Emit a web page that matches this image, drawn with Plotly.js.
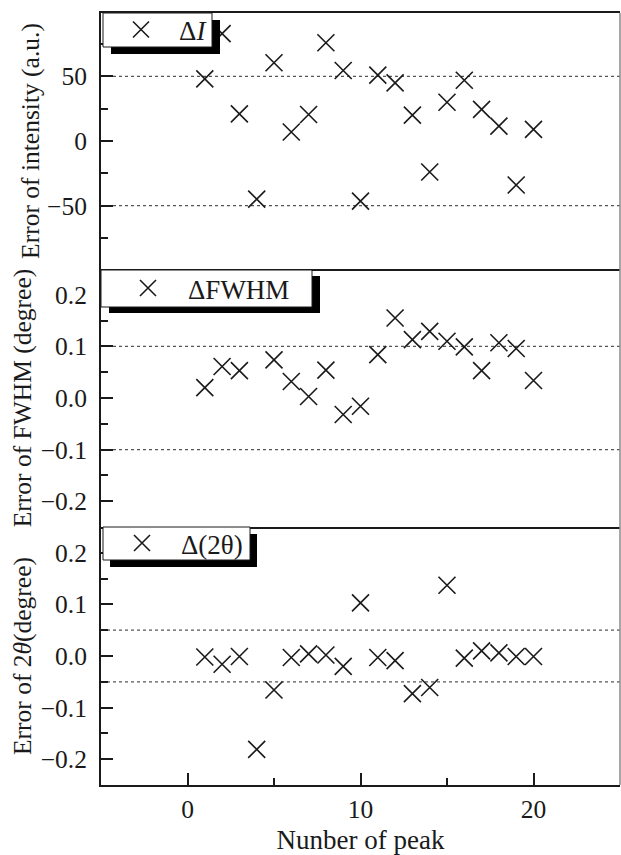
<!DOCTYPE html>
<html>
<head>
<meta charset="utf-8">
<script src="https://cdn.plot.ly/plotly-3.0.1.min.js"></script>
<style>
  body { margin: 0; background: #fff; }
  #chart { width: 621px; height: 855px; }
</style>
</head>
<body>
<div id="chart"></div>
<script>
// Peak index shared by all three panels
const peakNumber = [1, 2, 3, 4, 5, 6, 7, 8, 9, 10, 11, 12, 13, 14, 15, 16, 17, 18, 19, 20];

// Error of intensity (a.u.)
const intensityError = [48, 83, 21, -45, 60.5, 7, 20.5, 76, 54.5, -46.5, 51, 45, 20, -24, 30, 47, 24.5, 11.5, -34, 9];

// Error of FWHM (degree); peak 4 has no value
const fwhmError = [0.02, 0.061, 0.053, null, 0.074, 0.032, 0.003, 0.054, -0.032, -0.016, 0.084, 0.155, 0.113, 0.129, 0.11, 0.099, 0.053, 0.107, 0.096, 0.034];

// Error of 2-theta (degree)
const twoThetaError = [-0.002, -0.016, -0.001, -0.181, -0.066, -0.003, 0.004, 0.002, -0.02, 0.103, -0.003, -0.009, -0.073, -0.061, 0.137, -0.004, 0.01, 0.006, -0.001, -0.001];

// Tolerance bands drawn as dotted lines
const intensityLimits = [-50, 50];
const fwhmLimits = [-0.1, 0.1];
const twoThetaLimits = [-0.05, 0.05];

const FONT = '"Liberation Serif", "Times New Roman", serif';
const INK = '#1a1a1a';

// Plot area in pixels (used to place the legend frames)
const M = { l: 101, r: 1, t: 13, b: 70 };
const W = 621, H = 855;
const PW = W - M.l - M.r, PH = H - M.t - M.b;
const px = x => (x - M.l) / PW;
const py = y => 1 - (y - M.t) / PH;

const markerStyle = {
  symbol: 'x-thin',
  size: 17,
  color: INK,
  line: { width: 1.6, color: INK }
};

const traces = [
  { x: peakNumber, y: intensityError, xaxis: 'x', yaxis: 'y', name: 'Δ<i>I</i>', legend: 'legend' },
  { x: peakNumber, y: fwhmError, xaxis: 'x2', yaxis: 'y2', name: 'ΔFWHM', legend: 'legend2' },
  { x: peakNumber, y: twoThetaError, xaxis: 'x3', yaxis: 'y3', name: 'Δ(2θ)', legend: 'legend3' }
].map(t => Object.assign(t, { type: 'scatter', mode: 'markers', marker: markerStyle, showlegend: true }));

function xAxis(anchor, mirror, showLabels) {
  return {
    anchor: anchor,
    range: [-5, 25],
    showline: true, mirror: mirror, linecolor: INK, linewidth: 2,
    showgrid: false, zeroline: false,
    ticks: showLabels ? 'inside' : '',
    ticklen: 12, tickwidth: 2, tickcolor: INK,
    dtick: 10, tick0: 0,
    minor: showLabels ? { ticks: 'inside', ticklen: 7, tickwidth: 2, tickcolor: INK, dtick: 5, showgrid: false } : undefined,
    showticklabels: showLabels,
    ticklabelstandoff: 0,
    tickfont: { family: FONT, size: 25.5, color: INK },
    title: showLabels ? { text: 'Nunber of peak', font: { family: FONT, size: 27, color: INK }, standoff: 10 } : undefined
  };
}

function yAxis(anchor, domain, range, dtick, minorDtick, titleText, fmt, standoff) {
  return {
    anchor: anchor,
    domain: domain,
    range: range,
    showline: true, mirror: false, linecolor: INK, linewidth: 2,
    showgrid: false, zeroline: false,
    ticks: 'inside', ticklen: 12, tickwidth: 2, tickcolor: INK,
    dtick: dtick, tick0: 0, tickformat: fmt,
    minor: { ticks: 'inside', ticklen: 7, tickwidth: 2, tickcolor: INK, dtick: minorDtick, showgrid: false },
    ticklabelstandoff: 7,
    tickfont: { family: FONT, size: 25.5, color: INK },
    title: { text: titleText, font: { family: FONT, size: 25.5, color: INK }, standoff: standoff }
  };
}

function limitLines(values, yref) {
  return values.map(v => ({
    type: 'line', xref: 'paper', x0: 0, x1: 1, yref: yref, y0: v, y1: v,
    line: { color: '#555', width: 1.2, dash: 'dot' }, layer: 'below'
  }));
}

// White legend frame with a black drop shadow, given in pixels
function legendFrame(x0, y0, x1, y1, dx, dy) {
  return [
    { type: 'rect', xref: 'paper', yref: 'paper', layer: 'above',
      x0: px(x0 + dx), x1: px(x1 + dx), y0: py(y1 + dy), y1: py(y0 + dy),
      fillcolor: '#000', line: { width: 0 } },
    { type: 'rect', xref: 'paper', yref: 'paper', layer: 'above',
      x0: px(x0), x1: px(x1), y0: py(y1), y1: py(y0),
      fillcolor: '#fff', line: { width: 1, color: INK } }
  ];
}

function legendBox(xPix, yPix, itemwidth) {
  return {
    x: px(xPix), y: py(yPix), xref: 'paper', yref: 'paper', xanchor: 'left', yanchor: 'middle',
    bgcolor: 'rgba(0,0,0,0)', borderwidth: 0,
    itemwidth: itemwidth,
    font: { family: FONT, size: 27, color: INK }
  };
}

// Right edge of the frame, a lighter hairline
const rightEdge = {
  type: 'line', xref: 'paper', yref: 'paper', x0: 1, x1: 1, y0: 0, y1: 1,
  line: { color: '#8a8a8a', width: 1.5 }, layer: 'above'
};

const layout = {
  width: W, height: H,
  margin: M,
  paper_bgcolor: '#fff', plot_bgcolor: '#fff',
  showlegend: true,
  xaxis: xAxis('y', true, false),
  xaxis2: xAxis('y2', false, false),
  xaxis3: xAxis('y3', false, true),
  yaxis: yAxis('x', [0.6684, 1], [-99, 99], 50, 25, 'Error of intensity (a.u.)', 'd', 0),
  yaxis2: yAxis('x2', [0.3342, 0.6684], [-0.25, 0.25], 0.1, 0.05, 'Error of FWHM (degree)', '.1f', 2),
  yaxis3: yAxis('x3', [0, 0.3342], [-0.25, 0.25], 0.1, 0.05, 'Error of 2<i>θ</i>(degree)', '.1f', 2),
  legend: legendBox(103, 30, 66),
  legend2: legendBox(108, 288.5, 70),
  legend3: legendBox(103, 543.5, 68),
  shapes: [].concat(
    limitLines(intensityLimits, 'y'),
    limitLines(fwhmLimits, 'y2'),
    limitLines(twoThetaLimits, 'y3'),
    [rightEdge],
    legendFrame(103, 13, 212, 47, 8, 7),
    legendFrame(101, 270, 312, 307, 8, 6),
    legendFrame(103, 527, 250, 560, 7, 7)
  )
};

Plotly.newPlot('chart', traces, layout, { displayModeBar: false, staticPlot: true });
</script>
</body>
</html>
